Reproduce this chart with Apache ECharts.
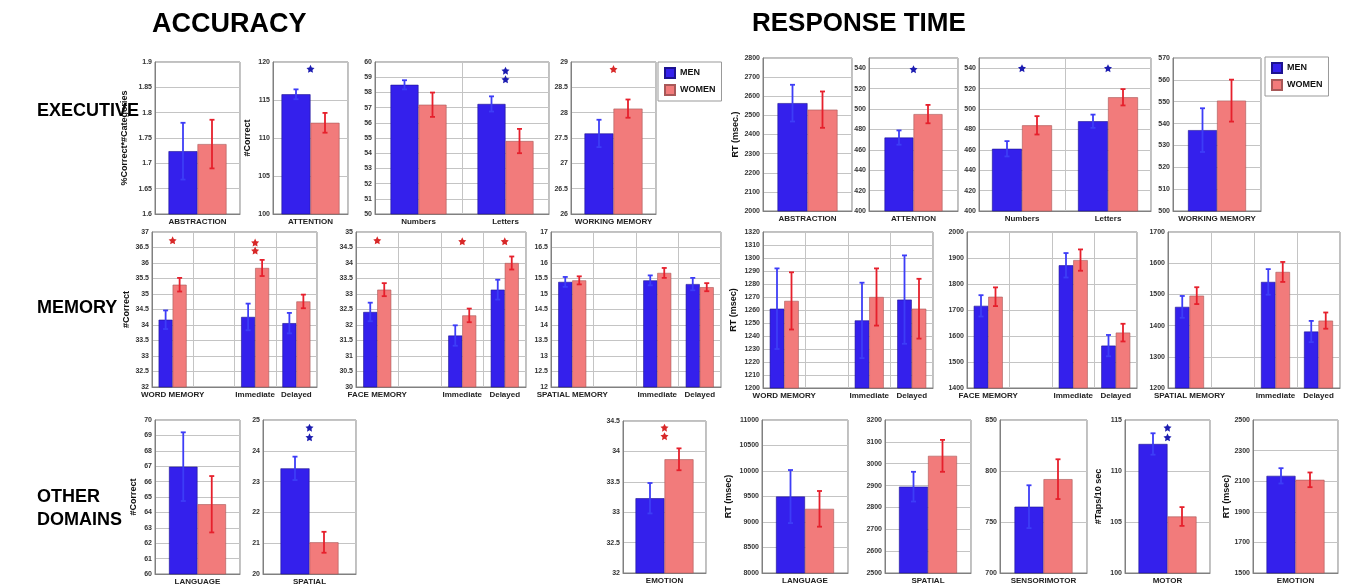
<!DOCTYPE html>
<html><head><meta charset="utf-8">
<script src="https://cdn.jsdelivr.net/npm/echarts@6/dist/echarts.min.js"></script>
<style>html,body{margin:0;padding:0;background:#fff}#c{width:1345px;height:587px}</style>
</head><body><div id="c"></div>
<script>
// ===================== DATA =====================
// each panel: categories, men means, men error, women means, women error,
// significance stars [categoryIndex, y, 'M'|'W'], y-axis ticks [min,max,step], y-axis title
const accAbstraction = { cats:['ABSTRACTION'], men:[1.724], menErr:[0.056], women:[1.738], womenErr:[0.048], stars:[], ticks:[1.6,1.9,0.05], yName:'%Correct*#Categories' };
const accAttention   = { cats:['ATTENTION'], men:[115.75], menErr:[0.65], women:[112.0], womenErr:[1.3], stars:[[0,119.1,'M']], ticks:[100,120,5], yName:'#Correct' };
const accNumLet      = { cats:['Numbers','Letters'], men:[58.5,57.24], menErr:[0.3,0.5], women:[57.19,54.8], womenErr:[0.8,0.8], stars:[[1,59.43,'M'],[1,58.86,'M']], ticks:[50,60,1], yName:'' };
const accWorking     = { cats:['WORKING MEMORY'], men:[27.59], menErr:[0.27], women:[28.08], womenErr:[0.18], stars:[[0,28.86,'W']], ticks:[26,29,0.5], yName:'' };

const rtAbstraction  = { cats:['ABSTRACTION'], men:[2564], menErr:[96], women:[2530], womenErr:[95], stars:[], ticks:[2000,2800,100], yName:'RT (msec.)' };
const rtAttention    = { cats:['ATTENTION'], men:[472], menErr:[7], women:[495], womenErr:[9], stars:[[0,539,'M']], ticks:[400,550,20], yName:'' };
const rtNumLet       = { cats:['Numbers','Letters'], men:[461,488], menErr:[7.5,6.5], women:[484,511.5], womenErr:[9,8], stars:[[0,540,'M'],[1,540,'M']], ticks:[400,550,20], yName:'' };
const rtWorking      = { cats:['WORKING MEMORY'], men:[537], menErr:[10], women:[550.5], womenErr:[9.6], stars:[], ticks:[500,570,10], yName:'' };

const accWordMem     = { cats:['WORD MEMORY','','Immediate','Delayed'], men:[34.17,null,34.26,34.06], menErr:[0.3,null,0.43,0.33], women:[35.3,null,35.84,34.76], womenErr:[0.22,null,0.26,0.22], stars:[[0,36.73,'W'],[2,36.66,'W'],[2,36.4,'W']], ticks:[32,37,0.5], yName:'#Correct' };
const accFaceMem     = { cats:['FACE MEMORY','','Immediate','Delayed'], men:[32.42,null,31.66,33.14], menErr:[0.3,null,0.33,0.32], women:[33.14,null,32.31,34.0], womenErr:[0.21,null,0.22,0.21], stars:[[0,34.73,'W'],[2,34.7,'W'],[3,34.7,'W']], ticks:[30,35,0.5], yName:'' };
const accSpatialMem  = { cats:['SPATIAL MEMORY','','Immediate','Delayed'], men:[15.39,null,15.44,15.32], menErr:[0.16,null,0.16,0.2], women:[15.44,null,15.68,15.22], womenErr:[0.13,null,0.16,0.13], stars:[], ticks:[12,17,0.5], yName:'' };

const rtWordMem      = { cats:['WORD MEMORY','','Immediate','Delayed'], men:[1261,null,1252,1268], menErr:[31,null,29,34], women:[1267,null,1270,1261], womenErr:[22,null,22,23], stars:[], ticks:[1200,1320,10], yName:'RT (msec)' };
const rtFaceMem      = { cats:['FACE MEMORY','','Immediate','Delayed'], men:[1716,null,1872,1563], menErr:[41,null,47,41], women:[1751,null,1892,1613], womenErr:[36,null,41,34], stars:[], ticks:[1400,2000,100], yName:'' };
const rtSpatialMem   = { cats:['SPATIAL MEMORY','','Immediate','Delayed'], men:[1460,null,1540,1381], menErr:[35,null,41,34], women:[1496,null,1572,1416], womenErr:[27,null,32,26], stars:[], ticks:[1200,1700,100], yName:'' };

const accLanguage    = { cats:['LANGUAGE'], men:[66.97], menErr:[2.23], women:[64.53], womenErr:[1.83], stars:[], ticks:[60,70,1], yName:'#Correct' };
const accSpatial     = { cats:['SPATIAL'], men:[23.43], menErr:[0.38], women:[21.03], womenErr:[0.34], stars:[[0,24.75,'M'],[0,24.44,'M']], ticks:[20,25,1], yName:'' };
const accEmotion     = { cats:['EMOTION'], men:[33.23], menErr:[0.25], women:[33.87], womenErr:[0.18], stars:[[0,34.39,'W'],[0,34.25,'W']], ticks:[32,34.5,0.5], yName:'' };
const rtLanguage     = { cats:['LANGUAGE'], men:[9499], menErr:[520], women:[9258], womenErr:[350], stars:[], ticks:[8000,11000,500], yName:'RT (msec)' };
const rtSpatial      = { cats:['SPATIAL'], men:[2895], menErr:[68], women:[3036], womenErr:[73], stars:[], ticks:[2500,3200,100], yName:'' };
const rtSensorimotor = { cats:['SENSORIMOTOR'], men:[765], menErr:[21], women:[792], womenErr:[19.5], stars:[], ticks:[700,850,50], yName:'' };
const rtMotor        = { cats:['MOTOR'], men:[112.65], menErr:[1.05], women:[105.54], womenErr:[0.92], stars:[[0,114.25,'M'],[0,113.3,'M']], ticks:[100,115,5], yName:'#Taps/10 sec' };
const rtEmotion      = { cats:['EMOTION'], men:[2135], menErr:[50], women:[2109], womenErr:[48], stars:[], ticks:[1500,2500,200], yName:'RT (msec)' };

const legendNames = ['MEN','WOMEN'];
const mainTitles = ['ACCURACY','RESPONSE TIME'];
const rowTitles = ['EXECUTIVE','MEMORY','OTHER','DOMAINS'];

// ===================== LAYOUT (pixel positions, separate from data) =====================
// [panel, left, top, width, height, barWidth, yNameGap]
const layout = [
  [accAbstraction, 155, 62, 85, 152, 29, 26],
  [accAttention,   273, 62, 75, 152, 29, 21],
  [accNumLet,      375, 62, 174,152, 28, 20],
  [accWorking,     571, 62, 85, 152, 29, 20],
  [rtAbstraction,  763, 58, 89, 153, 30, 23],
  [rtAttention,    869, 58, 89, 153, 29, 20],
  [rtNumLet,       979, 58, 172,153, 30, 20],
  [rtWorking,     1173, 58, 88, 153, 29, 20],
  [accWordMem,     152,232, 165,155, 14, 21],
  [accFaceMem,     356,232, 170,155, 14, 20],
  [accSpatialMem,  551,232, 170,155, 14, 20],
  [rtWordMem,      763,232, 170,156, 14.5, 25],
  [rtFaceMem,      967,232, 170,156, 14.5, 20],
  [rtSpatialMem,  1168,232, 172,156, 14.5, 20],
  [accLanguage,    155,420, 85, 154, 28.5, 17],
  [accSpatial,     263,420, 93, 154, 29, 20],
  [accEmotion,     623,421, 83, 152, 29, 20],
  [rtLanguage,     762,420, 86, 153, 29, 29],
  [rtSpatial,      885,420, 86, 153, 29, 20],
  [rtSensorimotor,1000,420, 87, 153, 29, 20],
  [rtMotor,       1125,420, 85, 153, 29, 22],
  [rtEmotion,     1253,420, 85, 153, 29, 22]
];

// ===================== STYLE =====================
const FONT = '"Liberation Sans", Arial, Helvetica, sans-serif';
const MEN_C = '#3420ec', WOMEN_C = '#f27b7b';
const MEN_BORDER = '#1c1290', WOMEN_BORDER = '#a85858';
const MEN_E = '#3d3df7', WOMEN_E = '#e6202c';
const STAR_M = '#1c1cb0', STAR_W = '#d82828';
const STAR = 'path://M0,-10L2.94,-4.05L9.51,-3.09L4.76,1.55L5.88,8.09L0,5L-5.88,8.09L-4.76,1.55L-9.51,-3.09L-2.94,-4.05Z';

const grids = [], xAxes = [], yAxes = [], series = [];

function errRenderer(sign, bw, color) {
  return function (params, api) {
    const x = api.value(0), v = api.value(1), e = api.value(2);
    const c = api.coord([x, v]);
    const cx = c[0] + sign * bw / 2;
    const yt = api.coord([x, v + e])[1];
    const yb = api.coord([x, v - e])[1];
    const cap = 2.5;
    const st = { stroke: color, lineWidth: 1.8 };
    return { type: 'group', children: [
      { type: 'line', shape: { x1: cx, y1: yt, x2: cx, y2: yb }, style: st },
      { type: 'line', shape: { x1: cx - cap, y1: yt, x2: cx + cap, y2: yt }, style: st },
      { type: 'line', shape: { x1: cx - cap, y1: yb, x2: cx + cap, y2: yb }, style: st }
    ]};
  };
}

layout.forEach(function (L, i) {
  const p = L[0], left = L[1], top = L[2], width = L[3], height = L[4], bw = L[5], gap = L[6];
  const mn = p.ticks[0], mx = p.ticks[1], step = p.ticks[2];
  grids.push({ left: left, top: top, width: width, height: height, show: true,
    borderColor: '#808080', borderWidth: 1, backgroundColor: '#fff', containLabel: false });
  xAxes.push({ type: 'category', gridIndex: i, data: p.cats,
    axisLine: { show: true, lineStyle: { color: '#808080', width: 1 } },
    axisTick: { show: false },
    splitLine: { show: true, lineStyle: { color: '#c4c4c4', width: 1 } },
    axisLabel: { interval: 0, margin: 4, fontFamily: FONT, fontSize: 8, fontWeight: 'bold', color: '#222' } });
  yAxes.push({ type: 'value', gridIndex: i, min: mn, max: mx, interval: step,
    name: p.yName, nameLocation: 'middle', nameGap: gap, nameRotate: 90,
    nameTextStyle: { fontFamily: FONT, fontSize: 9, fontWeight: 'bold', color: '#111' },
    axisLine: { show: true, lineStyle: { color: '#808080' } },
    axisTick: { show: false },
    splitLine: { show: true, lineStyle: { color: '#c4c4c4', width: 1 } },
    axisLabel: { margin: 3, fontFamily: FONT, fontSize: 7, fontWeight: 'bold', color: '#333',
      formatter: function (v) {
        const k = (v - mn) / step;
        return Math.abs(k - Math.round(k)) < 1e-6 ? String(+v.toFixed(3)) : '';
      } } });
  series.push({ name: 'MEN', type: 'bar', xAxisIndex: i, yAxisIndex: i, data: p.men,
    barWidth: bw, barGap: '0%', itemStyle: { color: MEN_C, borderColor: MEN_BORDER, borderWidth: 0.6 }, z: 2 });
  series.push({ name: 'WOMEN', type: 'bar', xAxisIndex: i, yAxisIndex: i, data: p.women,
    barWidth: bw, barGap: '0%', itemStyle: { color: WOMEN_C, borderColor: WOMEN_BORDER, borderWidth: 0.6 }, z: 2 });
  const menErrData = [], womenErrData = [];
  p.cats.forEach(function (c, k) {
    if (p.men[k] != null) menErrData.push([k, p.men[k], p.menErr[k]]);
    if (p.women[k] != null) womenErrData.push([k, p.women[k], p.womenErr[k]]);
  });
  series.push({ type: 'custom', xAxisIndex: i, yAxisIndex: i, data: menErrData, z: 5, clip: false,
    renderItem: errRenderer(-1, bw, MEN_E), silent: true });
  series.push({ type: 'custom', xAxisIndex: i, yAxisIndex: i, data: womenErrData, z: 5, clip: false,
    renderItem: errRenderer(1, bw, WOMEN_E), silent: true });
  if (p.stars.length) {
    series.push({ type: 'scatter', xAxisIndex: i, yAxisIndex: i, symbol: STAR, symbolSize: 8, z: 6,
      data: p.stars.map(function (s) {
        return { value: [s[0], s[1]], itemStyle: { color: s[2] === 'M' ? STAR_M : STAR_W, opacity: 1 } };
      }) });
  }
});

function legendAt(left, top) {
  return { data: legendNames, orient: 'vertical', left: left, top: top, icon: 'rect',
    itemWidth: 10, itemHeight: 10, itemGap: 5, padding: [5, 6, 5, 6],
    borderColor: '#999', borderWidth: 1, backgroundColor: '#fff', selectedMode: false,
    textStyle: { fontFamily: FONT, fontSize: 9, fontWeight: 'bold', color: '#111' } };
}

const textEl = function (txt, x, y, size) {
  return { type: 'text', left: x, top: y, style: { text: txt, fill: '#000',
    font: 'bold ' + size + 'px ' + FONT } };
};

const option = {
  backgroundColor: '#fff',
  animation: false,
  grid: grids, xAxis: xAxes, yAxis: yAxes, series: series,
  legend: [legendAt(658, 62), legendAt(1265, 57)],
  graphic: [
    textEl(mainTitles[0], 152, 11, 27),
    textEl(mainTitles[1], 752, 11, 26),
    textEl(rowTitles[0], 37, 102, 18),
    textEl(rowTitles[1], 37, 299, 18),
    textEl(rowTitles[2], 37, 488, 18),
    textEl(rowTitles[3], 37, 511, 18)
  ]
};
const chart = echarts.init(document.getElementById('c'), null, { renderer: 'canvas' });
chart.setOption(option);
</script></body></html>
